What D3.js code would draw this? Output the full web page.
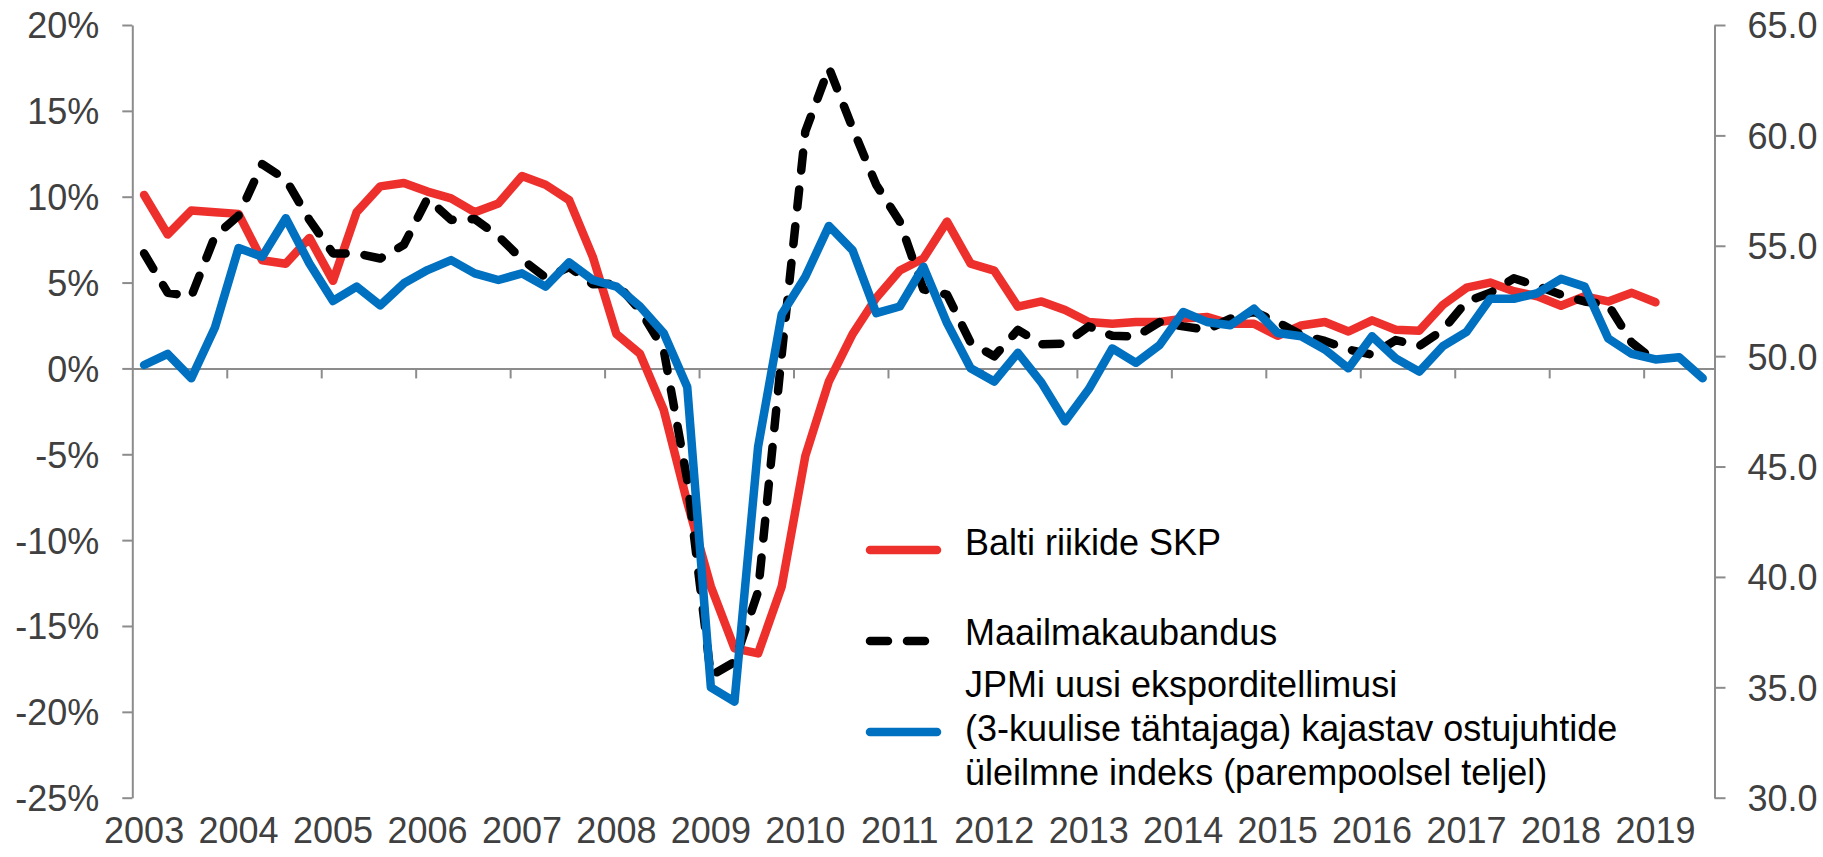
<!DOCTYPE html>
<html>
<head>
<meta charset="utf-8">
<script src="https://cdn.jsdelivr.net/npm/d3@7"></script>
<style>
  body { margin: 0; background: #fff; }
  svg text { font-family: "Liberation Sans", Arial, sans-serif; }
</style>
</head>
<body>
<svg id="chart" width="1823" height="857"></svg>
<script>
// year labels on the x axis (quarterly data, label on Q1)
const years = ["2003", "2004", "2005", "2006", "2007", "2008", "2009", "2010", "2011",
               "2012", "2013", "2014", "2015", "2016", "2017", "2018", "2019"];
const quarters = ["Q1", "Q2", "Q3", "Q4"];
const nQuarters = 67; // 2003Q1 .. 2019Q3

// Balti riikide SKP, % (left axis)
const gdp = [10.1, 7.8, 9.2, 9.1, 9.0, 6.3, 6.1, 7.6, 5.1, 9.1, 10.6, 10.8,
             10.3, 9.9, 9.1, 9.6, 11.2, 10.7, 9.8, 6.5, 2.0, 0.85, -2.4, -7.8,
             -12.7, -16.3, -16.6, -12.7, -5.1, -0.75, 2.0, 4.1, 5.7, 6.4, 8.55, 6.1,
             5.7, 3.6, 3.9, 3.4, 2.7, 2.6, 2.7, 2.7, 2.9, 3.0, 2.6, 2.6,
             1.9, 2.5, 2.7, 2.15, 2.8, 2.25, 2.2, 3.7, 4.7, 5.0, 4.5, 4.2,
             3.65, 4.2, 3.9, 4.4, 3.85];

// Maailmakaubandus, % (left axis)
const trade = [6.7, 4.4, 4.2, 7.7, 8.9, 11.9, 11.0, 8.65, 6.7, 6.7, 6.4, 7.2,
               9.9, 8.65, 8.7, 7.7, 6.35, 5.3, 5.9, 4.9, 4.95, 3.4, 1.1, -6.5,
               -17.9, -17.1, -13.0, 0.8, 13.8, 17.5, 14.0, 10.7, 8.55, 4.6, 4.3, 1.5,
               0.7, 2.25, 1.4, 1.45, 2.45, 1.9, 1.85, 2.7, 2.45, 2.25, 2.9, 3.3,
               2.7, 1.95, 1.6, 1.1, 0.8, 1.65, 1.3, 2.25, 3.9, 4.4, 5.25, 4.8,
               4.3, 3.9, 3.7, 1.5, 0.4];

// JPMi uusi eksporditellimusi ... indeks (right axis)
const pmi = [49.6, 50.1, 49.0, 51.3, 54.9, 54.5, 56.25, 54.2, 52.5, 53.15, 52.3, 53.3,
             53.9, 54.35, 53.75, 53.45, 53.75, 53.15, 54.25, 53.45, 53.15, 52.25, 51.05, 48.6,
             35.0, 34.35, 45.9, 51.9, 53.6, 55.9, 54.8, 51.95, 52.25, 54.05, 51.5, 49.45,
             48.85, 50.15, 48.8, 47.05, 48.5, 50.35, 49.7, 50.5, 52.0, 51.55, 51.4, 52.15,
             51.05, 50.9, 50.3, 49.45, 50.9, 49.9, 49.3, 50.45, 51.1, 52.6, 52.6, 52.85,
             53.5, 53.15, 50.8, 50.1, 49.85, 49.95, 49.0];

const leftTicks = [-25, -20, -15, -10, -5, 0, 5, 10, 15, 20];
const rightTicks = [30, 35, 40, 45, 50, 55, 60, 65];

const legendItems = [
  { key: "gdp", lines: ["Balti riikide SKP"] },
  { key: "trade", lines: ["Maailmakaubandus"] },
  { key: "pmi", lines: ["JPMi uusi eksporditellimusi",
                        "(3-kuulise tähtajaga) kajastav ostujuhtide",
                        "üleilmne indeks (parempoolsel teljel)"] }
];

// quarter categories
const categories = [];
years.forEach(y => quarters.forEach(q => categories.push(y + q)));
categories.length = nQuarters;

const svg = d3.select("#chart");
const plotL = 132.3, plotR = 1714.5, plotT = 25, plotB = 797.7;
const axisColor = "#8c8c8c", labelColor = "#404040";

const x = d3.scaleBand().domain(categories).range([plotL, plotR]).padding(0);
const xIdx = d3.scaleLinear().domain([0, nQuarters]).range([plotL, plotR]);
const yL = d3.scaleLinear().domain([-25, 20]).range([plotB, plotT]);
const yR = d3.scaleLinear().domain([30, 65]).range([plotB, plotT]);
const cx = i => x(categories[i]) + x.bandwidth() / 2;

function styleAxis(g) {
  g.selectAll(".domain").attr("stroke", axisColor).attr("stroke-width", 2);
  g.selectAll(".tick line").attr("stroke", axisColor).attr("stroke-width", 2);
  g.selectAll(".tick text").attr("fill", labelColor).style("font-size", "36px");
}

// left axis
svg.append("g")
  .attr("transform", `translate(${plotL},0)`)
  .call(d3.axisLeft(yL).tickValues(leftTicks).tickSize(10).tickSizeOuter(0)
    .tickPadding(23).tickFormat(d => d + "%"))
  .call(styleAxis)
  .call(g => g.selectAll(".tick text").attr("dy", "0.36em"));

// right axis
svg.append("g")
  .attr("transform", `translate(${plotR},0)`)
  .call(d3.axisRight(yR).tickValues(rightTicks).tickSize(11).tickSizeOuter(0)
    .tickPadding(22).tickFormat(d3.format(".1f")))
  .call(styleAxis)
  .call(g => g.selectAll(".tick text").attr("dy", "0.36em"));

// x axis line at 0%, ticks between years
svg.append("g")
  .attr("transform", `translate(0,${yL(0)})`)
  .call(d3.axisBottom(xIdx).tickValues(d3.range(4, nQuarters, 4)).tickSize(10)
    .tickSizeOuter(0).tickFormat(""))
  .call(styleAxis);

// year labels at the bottom, on Q1 of each year
svg.append("g")
  .attr("transform", `translate(0,${plotB})`)
  .call(d3.axisBottom(x).tickValues(years.map(y => y + "Q1")).tickSize(0)
    .tickPadding(20).tickFormat(d => d.slice(0, 4)))
  .call(styleAxis)
  .call(g => g.select(".domain").remove())
  .call(g => g.selectAll(".tick text").attr("dy", "0.71em"));

const series = {
  gdp: { values: gdp, y: yL, color: "#ee302d", dash: null },
  trade: { values: trade, y: yL, color: "#000000", dash: "18 19" },
  pmi: { values: pmi, y: yR, color: "#0070c0", dash: null }
};

["gdp", "trade", "pmi"].forEach(k => {
  const s = series[k];
  const line = d3.line().x((d, i) => cx(i)).y(d => s.y(d));
  svg.append("path")
    .datum(s.values)
    .attr("d", line)
    .attr("fill", "none")
    .attr("stroke", s.color)
    .attr("stroke-width", 8.5)
    .attr("stroke-linejoin", "round")
    .attr("stroke-linecap", "round")
    .attr("stroke-dasharray", s.dash);
});

// legend
const legendY = [550, 641, 732];
const textBase = [[555], [645], [697, 741, 785]];
const lg = svg.append("g");
legendItems.forEach((item, j) => {
  const s = series[item.key];
  lg.append("line")
    .attr("x1", 870).attr("x2", item.key === "trade" ? 930 : 937)
    .attr("y1", legendY[j]).attr("y2", legendY[j])
    .attr("stroke", s.color).attr("stroke-width", 8.5)
    .attr("stroke-linecap", "round")
    .attr("stroke-dasharray", s.dash);
  item.lines.forEach((t, k) => {
    lg.append("text")
      .attr("x", 965).attr("y", textBase[j][k])
      .attr("fill", "#000")
      .style("font-size", "36px")
      .text(t);
  });
});
</script>
</body>
</html>
